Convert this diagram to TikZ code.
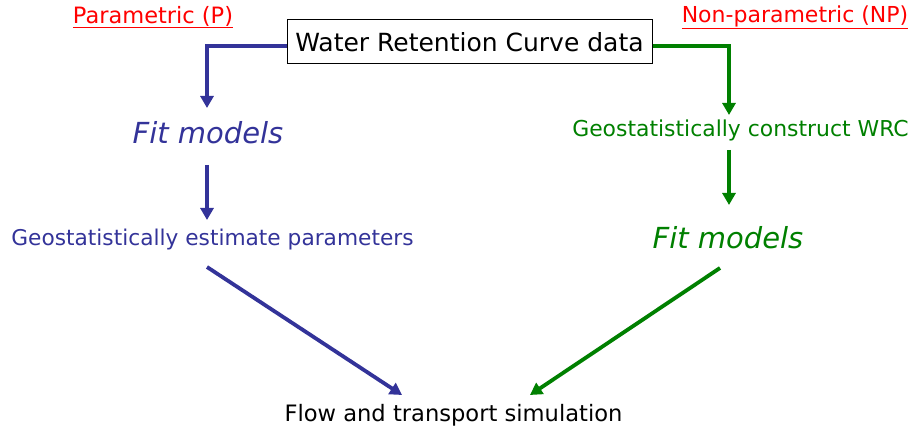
\documentclass[tikz,border=0pt]{standalone}
\usepackage{fontspec}
\setmainfont{DejaVu Sans}
\usetikzlibrary{arrows.meta}
\definecolor{pblue}{HTML}{333399}
\definecolor{pgreen}{HTML}{008000}
\definecolor{pred}{HTML}{FF0000}
\tikzset{
  x=1pt, y=-1pt,
  lbl/.style={inner sep=0pt, anchor=center},
  conn/.style={line width=3.8pt, -{Triangle[length=12pt,width=13pt]}},
  bconn/.style={conn, draw=pblue},
  gconn/.style={conn, draw=pgreen},
}
\begin{document}
\begin{tikzpicture}
\useasboundingbox (0,0) rectangle (912,438);
% headers
\node[lbl, text=pred, font=\fontsize{22.5}{26}\selectfont] (P) at (153,17) {\underline{Parametric (P)}};
\node[lbl, text=pred, font=\fontsize{22}{26}\selectfont] (NP) at (795,17) {\underline{Non-parametric (NP)}};
% data box
\node[draw=black, line width=1pt, fill=white, minimum width=365pt, minimum height=44pt, inner sep=0pt, font=\fontsize{25}{28}\selectfont] (wrc) at (469.5,42) {Water Retention Curve data};
% left column
\node[lbl, text=pblue, font=\fontsize{29}{33}\selectfont\itshape] (fitL) at (208,133) {Fit models};
\node[lbl, text=pblue, font=\fontsize{21.7}{25}\selectfont] (geoL) at (212.5,240) {Geostatistically estimate parameters};
% right column
\node[lbl, text=pgreen, font=\fontsize{21.9}{25}\selectfont] (geoR) at (740.5,130) {Geostatistically construct WRC};
\node[lbl, text=pgreen, font=\fontsize{29}{33}\selectfont\itshape] (fitR) at (728,238) {Fit models};
% bottom
\node[lbl, font=\fontsize{22.6}{26}\selectfont] (flow) at (453.5,415) {Flow and transport simulation};
% helper coordinates
\coordinate (lt) at (207,46);
\coordinate (rt) at (729,46);
\coordinate (lbend) at (207,108);
\coordinate (rbend) at (729,115);
\coordinate (l1s) at (207,165);
\coordinate (l1e) at (207,220);
\coordinate (r1s) at (729,150);
\coordinate (r1e) at (729,205);
\coordinate (l2s) at (207,267);
\coordinate (l2e) at (402,395);
\coordinate (r2s) at (720,268);
\coordinate (r2e) at (530,395);
% connectors
\draw[bconn] (wrc.west |- lt) -- (lt) -- (lbend);
\draw[gconn] (wrc.east |- rt) -- (rt) -- (rbend);
\draw[bconn] (l1s) -- (l1e);
\draw[gconn] (r1s) -- (r1e);
\draw[bconn] (l2s) -- (l2e);
\draw[gconn] (r2s) -- (r2e);
\end{tikzpicture}
\end{document}
